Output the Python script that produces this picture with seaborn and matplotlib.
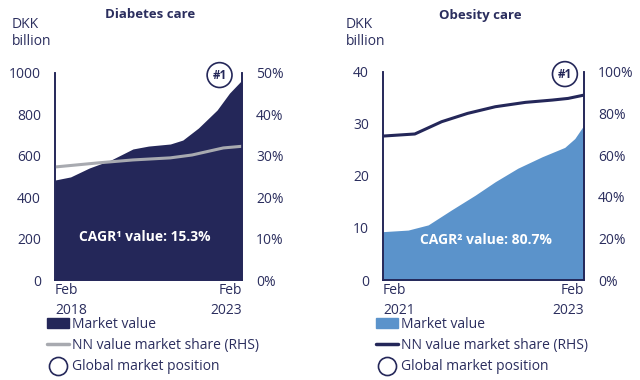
import numpy as np
import pandas as pd
import seaborn as sns
import matplotlib.pyplot as plt
from matplotlib.patches import Patch
from matplotlib.lines import Line2D
from matplotlib.ticker import PercentFormatter

# 糖尿病 (Feb 2018 - Feb 2023, 月份序号)
dia_months = [0, 5, 11, 18, 25, 30, 37, 41, 46, 52, 56, 60]
dia_value = [483, 498, 541, 580, 633, 647, 657, 676, 734, 821, 903, 966]
dia_share_months = [0, 14, 25, 37, 44, 54, 60]
dia_share = [27.3, 28.3, 29.0, 29.5, 30.2, 31.9, 32.3]

# 肥胖 (Feb 2021 - Feb 2023)
obe_months = [0, 3, 5.4, 8.2, 11, 13.4, 16.1, 19, 21.7, 22.9, 24]
obe_value = [9.3, 9.6, 10.6, 13.5, 16.3, 18.9, 21.5, 23.7, 25.5, 27.2, 29.8]
obe_share_months = [0, 3.8, 7, 10.1, 13.4, 17, 20.2, 22.1, 24]
obe_share = [69.2, 70.2, 76.1, 80.1, 83.3, 85.4, 86.5, 87.3, 88.9]

navy = '#242759'
grey = '#a8aab0'
blue = '#5b93cb'
txt = '#2b2e5e'

sns.set_theme(style='white')
plt.rcParams['font.family'] = ['Open Sans', 'DejaVu Sans']

fig = plt.figure(figsize=(6.4, 3.8), dpi=100)


def panel(rect, months, value, smonths, share, ymax, yticks, smax, sticks,
          fill_c, line_c, title, years, cagr, cagr_pos, badge_x, title_x):
    ax = fig.add_axes(rect)
    ax2 = ax.twinx()
    df = pd.DataFrame({'m': months, 'v': value})
    ds = pd.DataFrame({'m': smonths, 's': share})
    ax.fill_between(df['m'], 0, df['v'], color=fill_c, lw=0)
    sns.lineplot(data=ds, x='m', y='s', ax=ax2, color=line_c, lw=2.2)
    ax.set_xlim(0, months[-1])
    ax.set_ylim(0, ymax)
    ax.set_yticks(yticks)
    ax2.set_ylim(0, smax)
    ax2.set_yticks(sticks)
    ax2.yaxis.set_major_formatter(PercentFormatter(decimals=0))
    ax.set_xticks([0, months[-1]])
    ax.set_xticklabels(['Feb\n' + years[0], 'Feb\n' + years[1]])
    for lab, ha in zip(ax.get_xticklabels(), ['left', 'right']):
        lab.set_ha(ha)
        lab.set_linespacing(1.45)
    ax.tick_params(axis='y', length=0, labelsize=10, colors=txt, pad=10)
    ax.tick_params(axis='x', length=0, labelsize=10, colors=txt, pad=2)
    ax2.tick_params(axis='y', length=0, labelsize=10, colors=txt, pad=10)
    for a in (ax, ax2):
        a.set_xlabel('')
        a.set_ylabel('')
        a.spines['top'].set_visible(False)
        for side in ['left', 'right', 'bottom']:
            a.spines[side].set_color(navy)
            a.spines[side].set_linewidth(1.2)
    ax.text(cagr_pos[0], cagr_pos[1], cagr, transform=ax.transAxes,
            color='white', fontsize=10, fontweight='bold', ha='center', va='center')
    ax.text(badge_x, 0.99, '#1', transform=ax.transAxes, color=navy, fontsize=8.5,
            fontweight='bold', ha='center', va='center', clip_on=False,
            bbox=dict(boxstyle='circle,pad=0.45', fc='white', ec=navy, lw=1.2))
    fig.text(title_x, 1 - 15 / 380, title, ha='center', va='center',
             fontsize=9.5, fontweight='bold', color=txt)
    return ax


panel([55 / 640, 100 / 380, 187 / 640, 207 / 380], dia_months, dia_value,
      dia_share_months, dia_share, 1000, [0, 200, 400, 600, 800, 1000], 50,
      [0, 10, 20, 30, 40, 50], navy, grey, 'Diabetes care', ['2018', '2023'],
      'CAGR¹ value: 15.3%', (0.48, 0.21), 0.88, 150 / 640)
panel([383 / 640, 100 / 380, 201 / 640, 208 / 380], obe_months, obe_value,
      obe_share_months, obe_share, 40, [0, 10, 20, 30, 40], 100,
      [0, 20, 40, 60, 80, 100], blue, navy, 'Obesity care', ['2021', '2023'],
      'CAGR² value: 80.7%', (0.51, 0.19), 0.905, 480 / 640)

for x in (12, 346):
    fig.text(x / 640, 1 - 33 / 380, 'DKK\nbillion', ha='left', va='center',
             fontsize=10, color=txt, linespacing=1.15)

labels = ['Market value', 'NN value market share (RHS)', 'Global market position']
for x0, fc, lc in [(47, navy, grey), (376, blue, navy)]:
    handles = [Patch(color=fc),
               Line2D([], [], color=lc, lw=2.5),
               Line2D([], [], ls='none', marker='o', ms=13, mfc='white', mec=navy, mew=1.2)]
    fig.legend(handles, labels, loc='upper left', bbox_to_anchor=(x0 / 640, 1 - 317 / 380),
               frameon=False, fontsize=10, handlelength=1.6, handletextpad=0.2,
               labelspacing=0.45, labelcolor=txt, borderpad=0, borderaxespad=0)

fig.savefig('out.png', dpi=100)
